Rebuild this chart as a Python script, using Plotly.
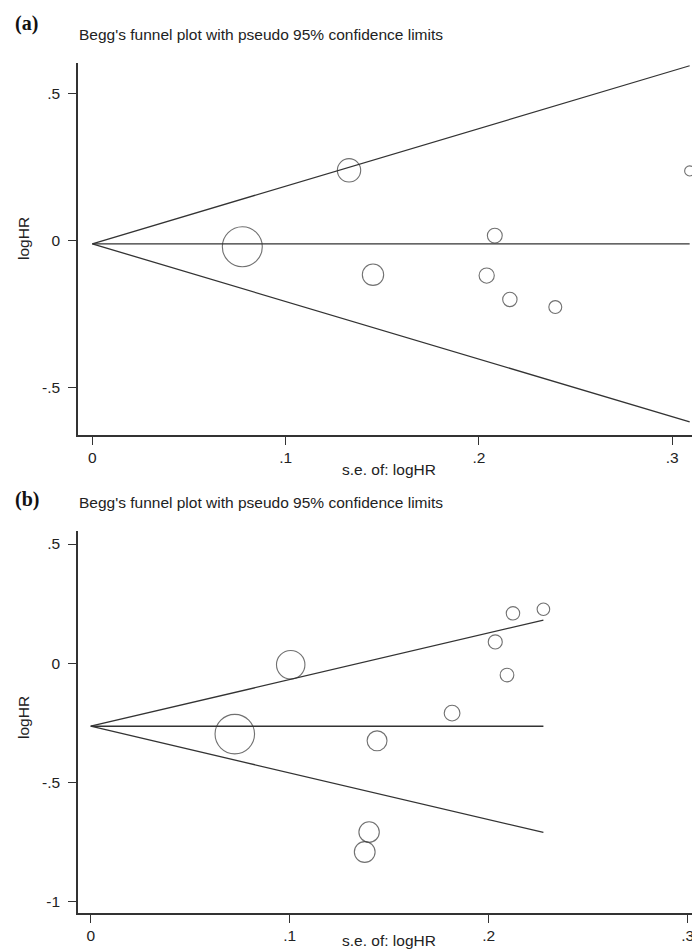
import plotly.graph_objects as go

# ---- data ----
se_a = [0.0776, 0.1328, 0.1452, 0.2040, 0.2082, 0.2160, 0.2395, 0.3090]
loghr_a = [-0.021, 0.239, -0.116, -0.119, 0.017, -0.200, -0.226, 0.237]
theta_a = -0.011

se_b = [0.0724, 0.1005, 0.1377, 0.1399, 0.1439, 0.1816, 0.2033, 0.2092, 0.2122, 0.2275]
loghr_b = [-0.298, -0.007, -0.793, -0.709, -0.326, -0.210, 0.089, -0.050, 0.209, 0.226]
theta_b = -0.265

x_tickvals = [0, 0.1, 0.2, 0.3]
x_ticktext = ["0", ".1", ".2", ".3"]
ya_tickvals = [0.5, 0, -0.5]
ya_ticktext = [".5", "0", "-.5"]
yb_tickvals = [0.5, 0, -0.5, -1]
yb_ticktext = [".5", "0", "-.5", "-1"]

title_text = "Begg's funnel plot with pseudo 95% confidence limits"
panel_labels = ["(a)", "(b)"]

W, H = 700, 951
LINE = "#333333"
FONT = "Liberation Sans, Arial, sans-serif"
FS = 15.5

fig = go.Figure()


def add_panel(se, lhr, theta, xa, ya, k):
    smax = max(se)
    # pooled estimate line
    fig.add_trace(go.Scatter(x=[0, smax], y=[theta, theta], mode="lines",
                             line=dict(color=LINE, width=1.3), xaxis=xa, yaxis=ya,
                             showlegend=False, hoverinfo="skip"))
    # pseudo 95% confidence limits
    fig.add_trace(go.Scatter(x=[smax, 0, smax],
                             y=[theta + 1.96 * smax, theta, theta - 1.96 * smax],
                             mode="lines", line=dict(color=LINE, width=1.3),
                             xaxis=xa, yaxis=ya, showlegend=False, hoverinfo="skip"))
    fig.add_trace(go.Scatter(x=se, y=lhr, mode="markers",
                             marker=dict(symbol="circle-open", size=[k / s for s in se],
                                         color=LINE, line=dict(width=1.1, color=LINE)),
                             xaxis=xa, yaxis=ya, showlegend=False))


add_panel(se_a, loghr_a, theta_a, "x", "y", 3.1)
add_panel(se_b, loghr_b, theta_b, "x2", "y2", 2.86)


def py(px):
    return 1 - px / H


xdom_a = [70 / W, 695 / W]
xdom_b = [70 / W, 693 / W]
axis_common = dict(showline=True, linecolor=LINE, linewidth=1.5, ticks="outside",
                   ticklen=8, tickwidth=1.2, tickcolor=LINE, showgrid=False,
                   zeroline=False, tickfont=dict(family=FONT, size=FS, color="#222"))

fig.update_layout(
    width=W, height=H, margin=dict(l=0, r=0, t=0, b=0),
    paper_bgcolor="white", plot_bgcolor="white",
    xaxis=dict(domain=xdom_a, range=[-0.0074, 0.3159], anchor="y",
               tickvals=x_tickvals, ticktext=x_ticktext, **axis_common),
    yaxis=dict(domain=[py(427), py(55)], range=[-0.661, 0.604], anchor="x",
               tickvals=ya_tickvals, ticktext=ya_ticktext, ticklabelstandoff=5,
               **axis_common),
    xaxis2=dict(domain=xdom_b, range=[-0.0064, 0.3067], anchor="y2",
                tickvals=x_tickvals, ticktext=x_ticktext, **axis_common),
    yaxis2=dict(domain=[py(905), py(523)], range=[-1.049, 0.5546], anchor="x2",
                tickvals=yb_tickvals, ticktext=yb_ticktext, ticklabelstandoff=5,
                **axis_common),
)

ann = []
for lab, ylab, ytitle, yy, yx in [(panel_labels[0], 15, 26, 231, 461),
                                   (panel_labels[1], 491, 494, 710, 932)]:
    ann.append(dict(text="<b>" + lab + "</b>", x=5 / W, y=py(ylab), xref="paper", yref="paper",
                    xanchor="left", yanchor="middle", showarrow=False,
                    font=dict(family="Liberation Serif, Times New Roman, serif", size=20, color="#111")))
    ann.append(dict(text=title_text, x=69 / W, y=py(ytitle), xref="paper", yref="paper",
                    xanchor="left", yanchor="middle", showarrow=False,
                    font=dict(family=FONT, size=FS, color="#222")))
    ann.append(dict(text="logHR", x=15 / W, y=py(yy), xref="paper", yref="paper",
                    xanchor="center", yanchor="middle", textangle=-90, showarrow=False,
                    font=dict(family=FONT, size=FS, color="#222")))
    ann.append(dict(text="s.e. of: logHR", x=381 / W, y=py(yx), xref="paper", yref="paper",
                    xanchor="center", yanchor="middle", showarrow=False,
                    font=dict(family=FONT, size=FS, color="#222")))
fig.update_layout(annotations=ann)

fig.write_html("out.html")
